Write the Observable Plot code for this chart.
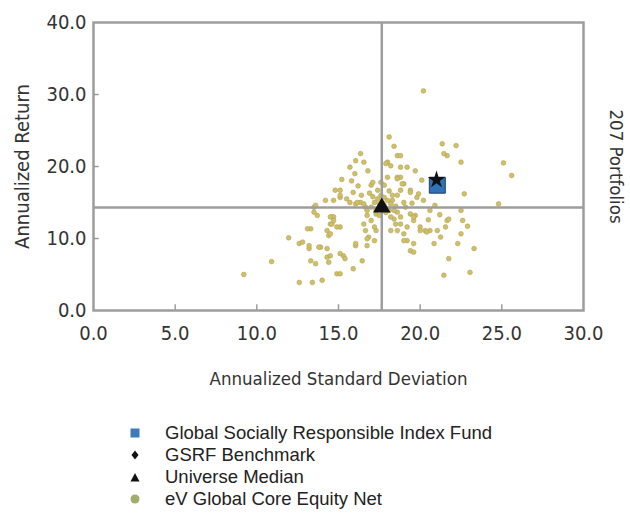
<!DOCTYPE html>
<html>
<head>
<meta charset="utf-8">
<script src="https://cdn.jsdelivr.net/npm/d3@7"></script>
<script src="https://cdn.jsdelivr.net/npm/@observablehq/plot@0.6"></script>
<style>
  body { margin: 0; background: #fff; }
  #chart { width: 630px; }
  .legend { margin: 17px 0 0 0; padding-left: 120px; font-family: "Liberation Sans", Arial, sans-serif; font-size: 18.5px; color: #222; }
  .row { display: flex; align-items: center; height: 22px; }
  .mk { width: 30px; display: flex; justify-content: center; align-items: center; margin-right: 15px; }
</style>
</head>
<body>
<div id="chart"></div>
<script>
// Universe portfolios: annualized standard deviation (x) and annualized return (y)
const universeStdDev = [
  9.2,10.9,11.95,12.6,12.8,12.6,13.4,14.0,13.2,13.3,13.7,13.5,14.2,13.9,13.3,13.6,14.3,14.4,14.5,14.6,
  14.4,14.8,14.9,13.6,13.5,13.1,13.2,14.3,14.5,14.7,15.1,15.1,15.5,15.7,16.05,16.35,16.65,17.0,17.2,17.4,
  17.5,17.6,17.8,18.6,18.3,18.2,18.1,18.2,19.0,19.2,19.6,19.4,19.6,18.6,18.5,18.4,18.6,18.8,19.1,19.4,
  19.7,19.6,20.0,20.3,20.6,21.05,21.25,20.85,21.55,21.65,21.75,22.5,22.6,22.5,23.3,21.75,21.45,23.05,22.3,24.8,
  22.7,25.6,25.1,22.5,21.65,21.45,22.2,21.35,20.1,19.9,19.4,19.0,18.6,18.0,19.7,19.2,18.8,18.2,18.0,17.0,
  17.1,16.8,16.0,15.7,16.55,16.35,18.6,18.8,18.4,18.1,20.2,16.05,18.8,17.8,17.4,17.3,17.3,16.75,17.0,16.65,
  16.85,16.75,16.05,16.45,15.9,15.1,15.3,15.1,14.6,14.7,14.3,13.8,17.9,15.1,16.15,16.55,18.0,18.3,18.8,18.9,
  19.4,19.8,20.2,18.6,14.7,14.9,16.05,15.1,15.4,16.55,16.75,17.2,17.2,18.8,19.2,19.6,20.0,20.4,19.0,18.2,
  18.4,17.8,18.0,16.75,14.5,14.5,17.3,17.7,17.9,17.5,17.1,16.9,18.5,19.0,18.1,17.6,16.2,15.9,16.4,19.5,
  20.6,20.9,20.5,21.2,22.9,15.2,15.8
];
const universeReturn = [
  5.0,6.8,10.1,9.3,9.5,3.9,3.9,4.2,8.6,11.35,13.2,14.35,15.3,8.8,6.9,6.5,7.4,6.7,12.0,13.0,
  10.4,16.7,5.1,14.6,13.65,11.35,9.0,8.6,7.6,15.3,16.7,15.7,15.5,15.0,14.8,15.0,14.35,14.35,15.0,15.5,
  14.8,16.0,15.7,16.0,15.3,14.8,13.9,11.1,10.65,9.7,9.3,8.3,8.1,11.1,12.0,12.7,13.65,13.0,14.35,13.4,
  13.2,12.5,11.6,11.1,11.1,11.1,10.2,9.3,11.6,12.5,12.7,13.9,12.5,10.65,8.6,7.2,4.9,5.3,9.3,14.8,
  16.2,18.75,20.5,20.6,21.5,21.8,22.9,23.15,18.1,16.2,16.7,17.6,18.5,18.5,19.4,19.9,19.9,20.1,20.6,17.4,
  17.8,19.4,19.0,19.9,20.6,21.8,21.5,21.5,22.8,24.1,30.5,20.8,18.5,17.4,16.7,13.4,11.1,13.2,12.5,11.1,
  10.2,9.0,9.0,6.9,5.8,5.1,7.6,11.6,12.0,13.0,11.1,8.8,20.4,16.0,15.0,14.8,15.3,16.0,16.7,17.6,
  16.4,15.7,15.3,18.3,12.5,11.6,9.3,7.9,7.2,12.0,9.95,11.6,9.7,12.0,11.6,13.0,11.1,10.9,9.7,13.0,
  13.9,14.6,14.1,13.9,13.0,10.65,14.0,14.9,13.6,13.2,15.8,16.3,14.5,15.0,16.6,17.8,17.3,16.4,16.0,14.9,
  13.9,14.6,12.6,13.3,11.7,18.2,18.0
];
const universe = universeStdDev.map((x, i) => ({x, y: universeReturn[i]}));

// Highlighted series
const fundName = "Global Socially Responsible Index Fund";
const fundPoint = [21.05, 17.4];
const benchName = "GSRF Benchmark";
const benchPoint = [21.0, 18.15];
const medianName = "Universe Median";
const medianPoint = [17.65, 14.3];
const universeName = "eV Global Core Equity Net";
const portfolioCount = "207 Portfolios";

const xTicks = [0, 5, 10, 15, 20, 25, 30];
const yTicks = [0, 10, 20, 30, 40];
const xInner = [5, 10, 15, 20, 25];
const yInner = [10, 20, 30];

const cond = '"DejaVu Sans Condensed", "Liberation Sans Narrow", sans-serif';
const gray = "#9d9d9d";

const chart = Plot.plot({
  width: 630,
  height: 405,
  marginLeft: 93,
  marginRight: 47,
  marginTop: 22,
  marginBottom: 95,
  x: {domain: [0, 30], ticks: xTicks, label: null},
  y: {domain: [0, 40], ticks: yTicks, label: null},
  style: {fontFamily: cond, fontSize: "20px", color: "#333", background: "#fff"},
  marks: [
    Plot.dot(universe, {x: "x", y: "y", r: 2.4, fill: "#cfbf66", stroke: "#ab9d52", strokeWidth: 0.5}),
    Plot.ruleX([medianPoint[0]], {stroke: gray, strokeWidth: 2.5}),
    Plot.ruleY([medianPoint[1]], {stroke: gray, strokeWidth: 2.5}),
    Plot.ruleX(xInner, {y1: 0, y2: 0.8, stroke: gray, strokeWidth: 1.5}),
    Plot.ruleY(yInner, {x1: 0, x2: 0.35, stroke: gray, strokeWidth: 1.5}),
    Plot.frame({stroke: gray, strokeWidth: 2.5}),
    Plot.dot([fundPoint], {x: d => d[0], y: d => d[1], symbol: "square", r: 9, fill: "#2f72b6", stroke: "#1d3f66", strokeWidth: 1}),
    Plot.dot([benchPoint], {x: d => d[0], y: d => d[1], symbol: "star", r: 5.5, fill: "#111"}),
    Plot.dot([medianPoint], {x: d => d[0], y: d => d[1], symbol: "triangle", r: 6.5, fill: "#111"}),
    Plot.axisX(xTicks, {tickSize: 0, tickPadding: 15, tickFormat: d => d.toFixed(1), fill: "#333", label: null}),
    Plot.axisY(yTicks, {tickSize: 0, tickPadding: 7, tickFormat: d => d.toFixed(1), fill: "#333", label: null}),
    Plot.text(["Annualized Standard Deviation"], {frameAnchor: "bottom", dy: 74, textAnchor: "middle", fontSize: 18.5, fill: "#333"}),
    Plot.text(["Annualized Return"], {frameAnchor: "left", dx: -71, textAnchor: "middle", rotate: -90, fontSize: 20, fill: "#333"}),
    Plot.text([portfolioCount], {frameAnchor: "right", dx: 32, textAnchor: "middle", rotate: 90, fontSize: 18.5, fill: "#333"})
  ]
});
document.getElementById("chart").appendChild(chart);

// Legend
const legendItems = [
  {name: fundName, svg: '<svg width="12" height="12"><rect x="1.5" y="1.5" width="9" height="9" fill="#3d7bbd"/></svg>'},
  {name: benchName, svg: '<svg width="12" height="12"><path d="M6 1.5 L9.5 6 L6 10.5 L2.5 6 Z" fill="#111"/></svg>'},
  {name: medianName, svg: '<svg width="12" height="12"><path d="M6 2 L10.5 10.5 L1.5 10.5 Z" fill="#111"/></svg>'},
  {name: universeName, svg: '<svg width="12" height="12"><circle cx="6" cy="6" r="4.5" fill="#9fae6d"/></svg>'}
];
const legend = document.createElement("div");
legend.className = "legend";
legend.innerHTML = legendItems.map(d => `<div class="row"><span class="mk">${d.svg}</span><span>${d.name}</span></div>`).join("");
document.body.appendChild(legend);
</script>
</body>
</html>
